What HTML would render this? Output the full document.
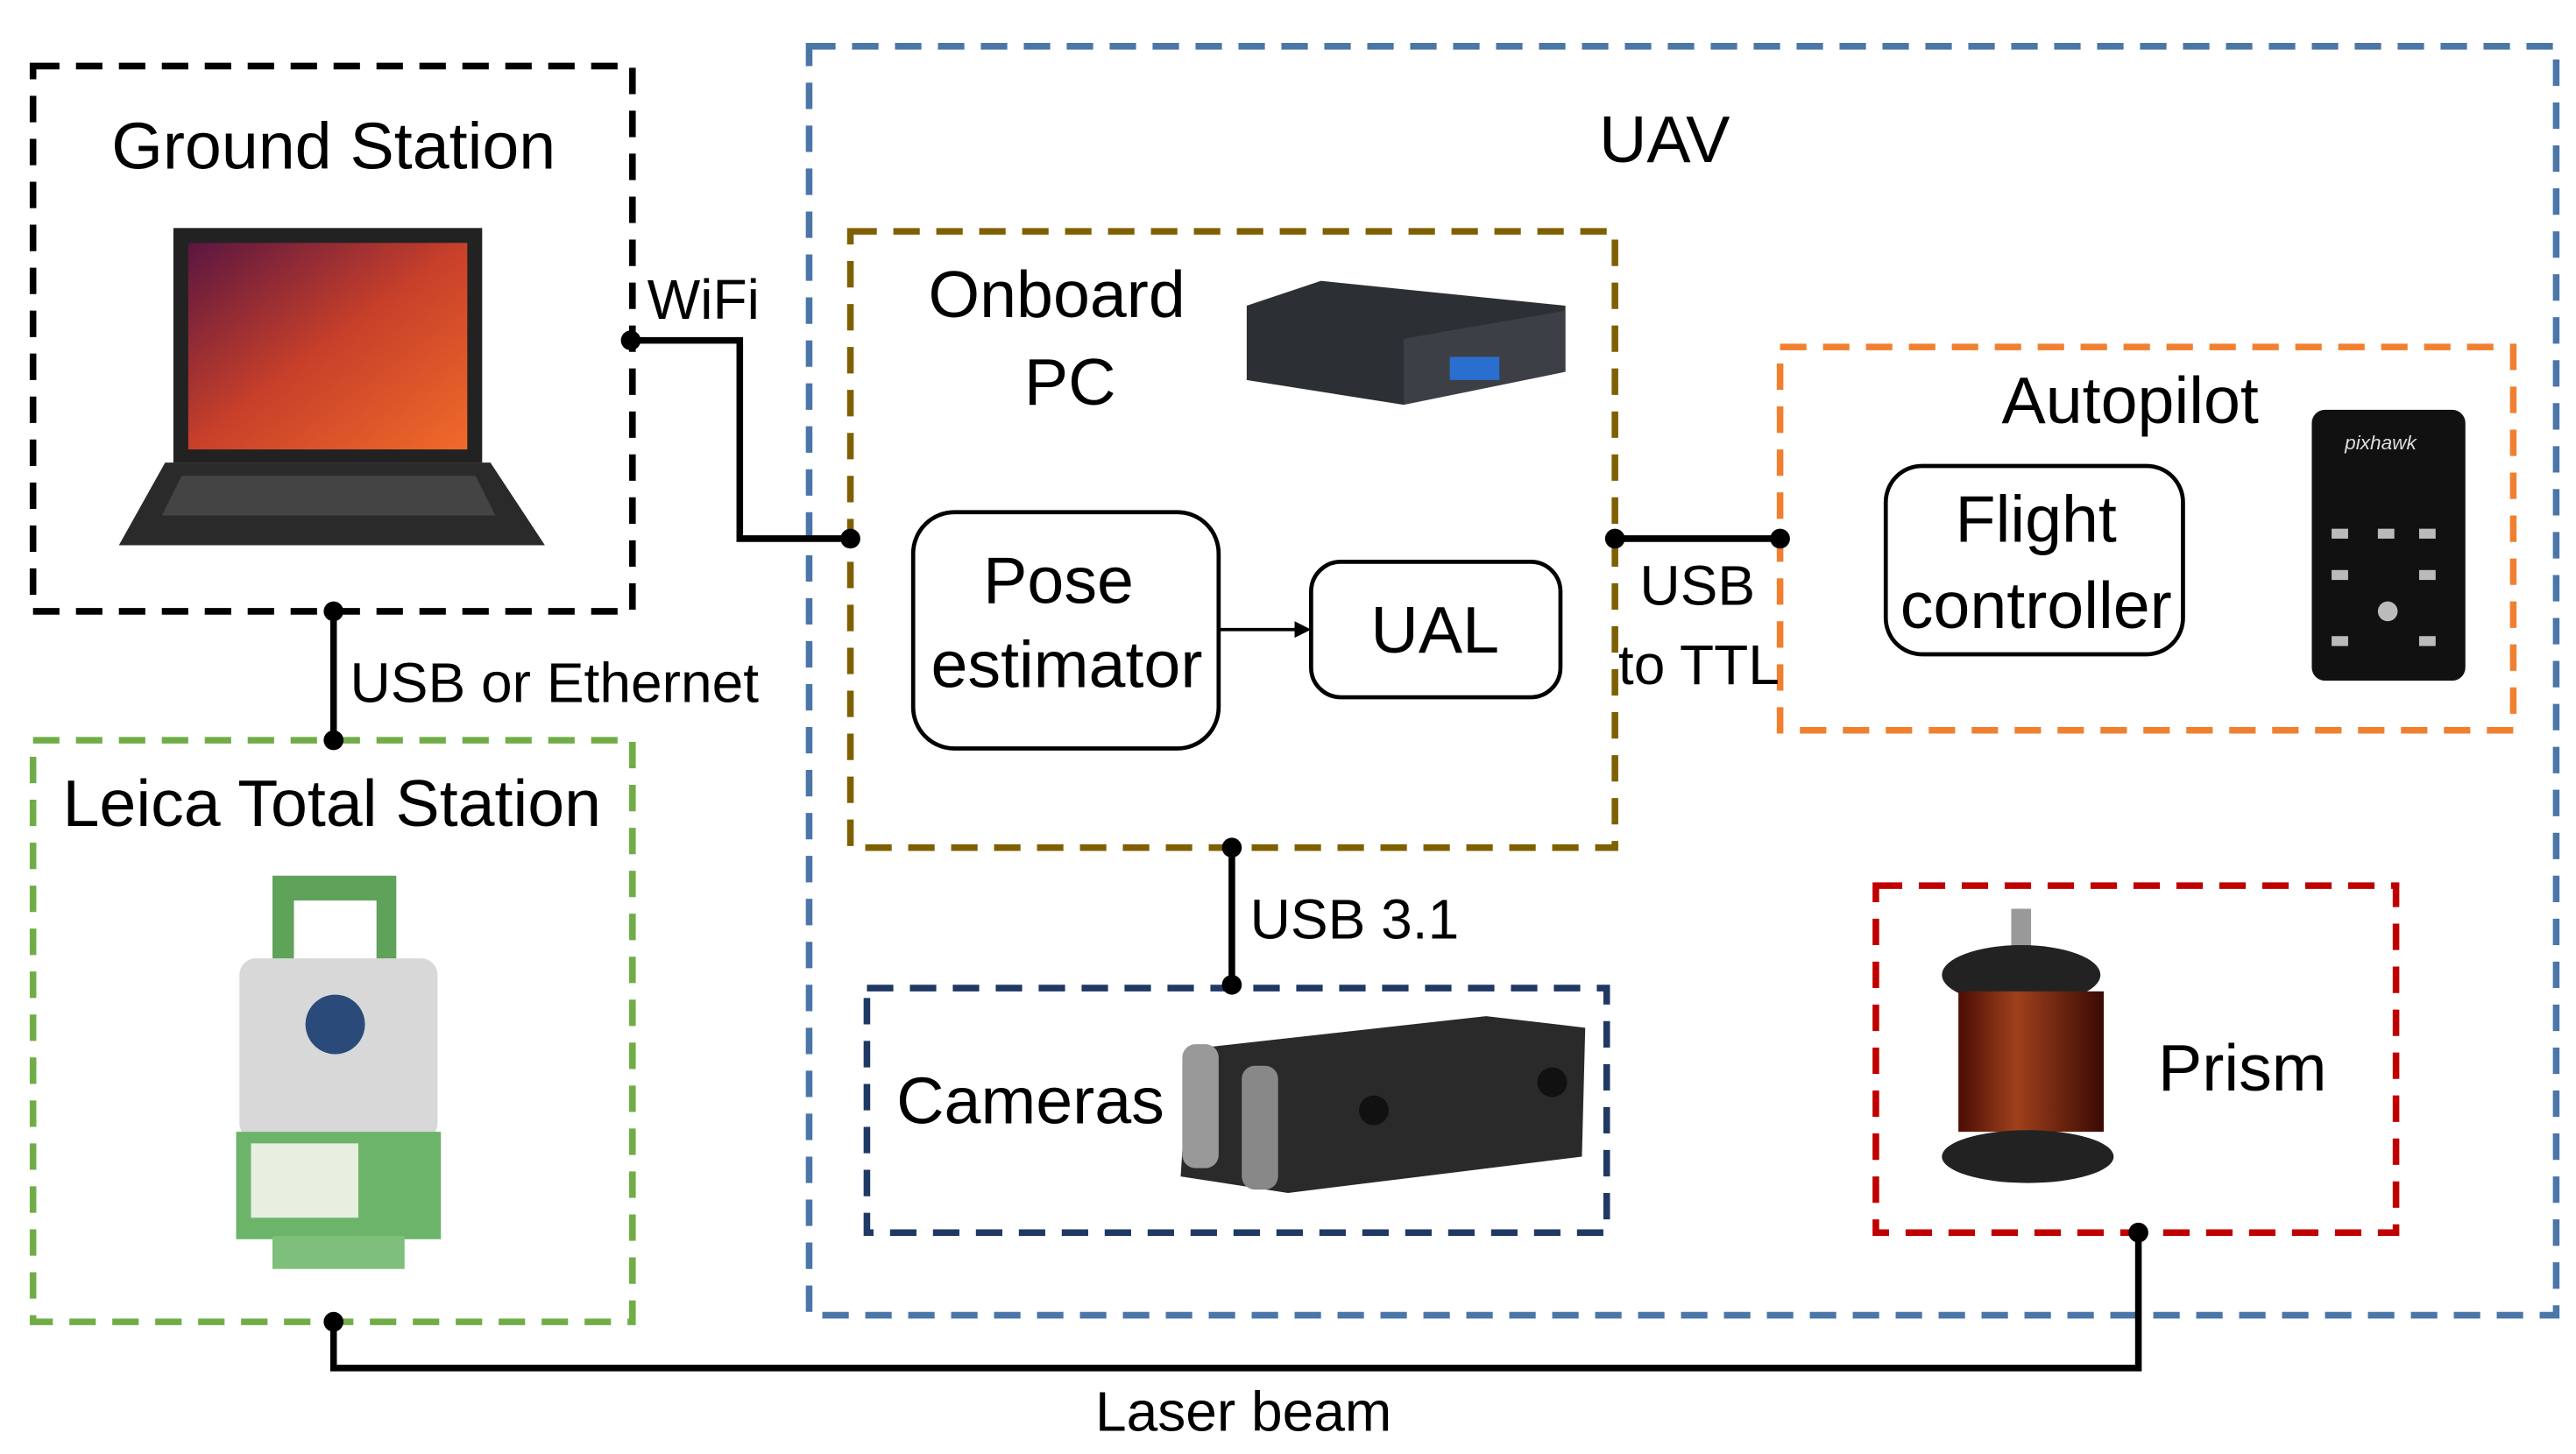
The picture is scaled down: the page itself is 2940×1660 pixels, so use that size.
<!DOCTYPE html>
<html><head><meta charset="utf-8"><style>
html,body{margin:0;padding:0;background:#fff;width:2940px;height:1660px;overflow:hidden}
svg{display:block}
text{font-family:"Liberation Sans",sans-serif;fill:#000}
</style></head><body>
<svg width="2940" height="1660" viewBox="0 0 1560 880" preserveAspectRatio="none" xmlns="http://www.w3.org/2000/svg">
<defs>
<linearGradient id="scr" x1="0" y1="0" x2="1" y2="1"><stop offset="0" stop-color="#5a1640"/><stop offset="0.5" stop-color="#c8402a"/><stop offset="1" stop-color="#f06a2a"/></linearGradient>
<linearGradient id="pr" x1="0" y1="0" x2="1" y2="0"><stop offset="0" stop-color="#4a0d05"/><stop offset="0.4" stop-color="#a0401c"/><stop offset="1" stop-color="#3a0a04"/></linearGradient>
</defs>
<g fill="none" stroke-width="4" stroke-dasharray="16,10">
<rect x="20" y="40" width="363" height="330" stroke="#000"/>
<rect x="490" y="28" width="1058" height="768" stroke="#4a76a8"/>
<rect x="515" y="140" width="463" height="373" stroke="#7f6000"/>
<rect x="1078" y="210" width="444" height="232" stroke="#f08030"/>
<rect x="20" y="448" width="363" height="352" stroke="#70ad47"/>
<rect x="525" y="598" width="448" height="148" stroke="#1f3864"/>
<rect x="1136" y="536" width="315" height="210" stroke="#c00000"/>
</g>
<g fill="none" stroke="#000" stroke-width="2.5">
<rect x="553" y="310" width="185" height="143" rx="25"/>
<rect x="794" y="340" width="151" height="82" rx="18"/>
<rect x="1142" y="282" width="180" height="114" rx="22"/>
</g>
<line x1="738" y1="381" x2="786" y2="381" stroke="#000" stroke-width="2"/>
<polygon points="794,381 784,376 784,386" fill="#000"/>
<g fill="none" stroke="#000" stroke-width="4">
<polyline points="382,206 448,206 448,326 515,326"/>
<line x1="978" y1="326" x2="1078" y2="326"/>
<line x1="202" y1="370" x2="202" y2="448"/>
<line x1="746" y1="513" x2="746" y2="596"/>
<polyline points="202,800 202,828 1295,828 1295,746"/>
</g>
<g fill="#000">
<circle cx="382" cy="206" r="6"/><circle cx="515" cy="326" r="6"/>
<circle cx="978" cy="326" r="6"/><circle cx="1078" cy="326" r="6"/>
<circle cx="202" cy="370" r="6"/><circle cx="202" cy="448" r="6"/>
<circle cx="746" cy="513" r="6"/><circle cx="746" cy="596" r="6"/>
<circle cx="202" cy="800" r="6"/><circle cx="1295" cy="746" r="6"/>
</g>
<!-- laptop -->
<rect x="105" y="138" width="187" height="142" fill="#222"/>
<rect x="114" y="147" width="169" height="125" fill="url(#scr)"/>
<polygon points="100,280 297,280 330,330 72,330" fill="#2a2a2a"/>
<polygon points="110,288 288,288 300,312 98,312" fill="#444"/>
<!-- mini pc -->
<polygon points="755,185 800,170 948,185 948,225 850,245 755,230" fill="#2c2f33"/>
<polygon points="850,205 948,188 948,225 850,245" fill="#3c4046"/>
<rect x="878" y="216" width="30" height="14" fill="#2a6fd0"/>
<!-- pixhawk -->
<rect x="1400" y="248" width="93" height="164" rx="8" fill="#111"/>
<g fill="#bbb"><rect x="1412" y="320" width="10" height="6"/><rect x="1440" y="320" width="10" height="6"/><rect x="1465" y="320" width="10" height="6"/><rect x="1412" y="345" width="10" height="6"/><rect x="1465" y="345" width="10" height="6"/><rect x="1412" y="385" width="10" height="6"/><rect x="1465" y="385" width="10" height="6"/><circle cx="1446" cy="370" r="6"/></g>
<text x="1420" y="272" font-size="12" fill="#ddd" style="fill:#ddd;font-style:italic">pixhawk</text>
<!-- leica -->
<path d="M165,530 H240 V600 H228 V545 H178 V600 H165 Z" fill="#5fa35a"/>
<rect x="145" y="580" width="120" height="110" rx="10" fill="#d8d8d8"/>
<circle cx="203" cy="620" r="18" fill="#2a4a7a"/>
<rect x="143" y="685" width="124" height="65" fill="#6cb46a"/>
<rect x="152" y="692" width="65" height="45" fill="#e8efe0"/>
<rect x="165" y="748" width="80" height="20" fill="#7fbf7c"/>
<!-- cameras -->
<polygon points="720,635 900,615 960,622 958,700 780,722 715,712" fill="#2a2a2a"/>
<rect x="752" y="645" width="22" height="75" rx="8" fill="#888"/>
<rect x="716" y="632" width="22" height="75" rx="8" fill="#999"/>
<circle cx="832" cy="672" r="9" fill="#111"/><circle cx="940" cy="655" r="9" fill="#111"/>
<!-- prism -->
<rect x="1218" y="550" width="12" height="25" fill="#999"/>
<ellipse cx="1224" cy="590" rx="48" ry="18" fill="#222"/>
<rect x="1186" y="600" width="88" height="85" fill="url(#pr)"/>
<ellipse cx="1228" cy="700" rx="52" ry="16" fill="#222"/>
<g font-size="40">
<text x="202" y="102" text-anchor="middle">Ground Station</text>
<text x="1008" y="98" text-anchor="middle">UAV</text>
<text x="640" y="192" text-anchor="middle">Onboard</text>
<text x="648" y="245" text-anchor="middle">PC</text>
<text x="1290" y="256" text-anchor="middle">Autopilot</text>
<text x="1233" y="328" text-anchor="middle">Flight</text>
<text x="1233" y="380" text-anchor="middle">controller</text>
<text x="641" y="365" text-anchor="middle">Pose</text>
<text x="646" y="416" text-anchor="middle">estimator</text>
<text x="869" y="395" text-anchor="middle">UAL</text>
<text x="201" y="500" text-anchor="middle">Leica Total Station</text>
<text x="624" y="680" text-anchor="middle">Cameras</text>
<text x="1358" y="660" text-anchor="middle">Prism</text>
</g>
<g font-size="34">
<text x="392" y="193">WiFi</text>
<text x="993" y="366">USB</text>
<text x="980" y="414">to TTL</text>
<text x="212" y="425">USB or Ethernet</text>
<text x="757" y="568">USB 3.1</text>
<text x="753" y="866" text-anchor="middle">Laser beam</text>
</g>
</svg>
</body></html>
